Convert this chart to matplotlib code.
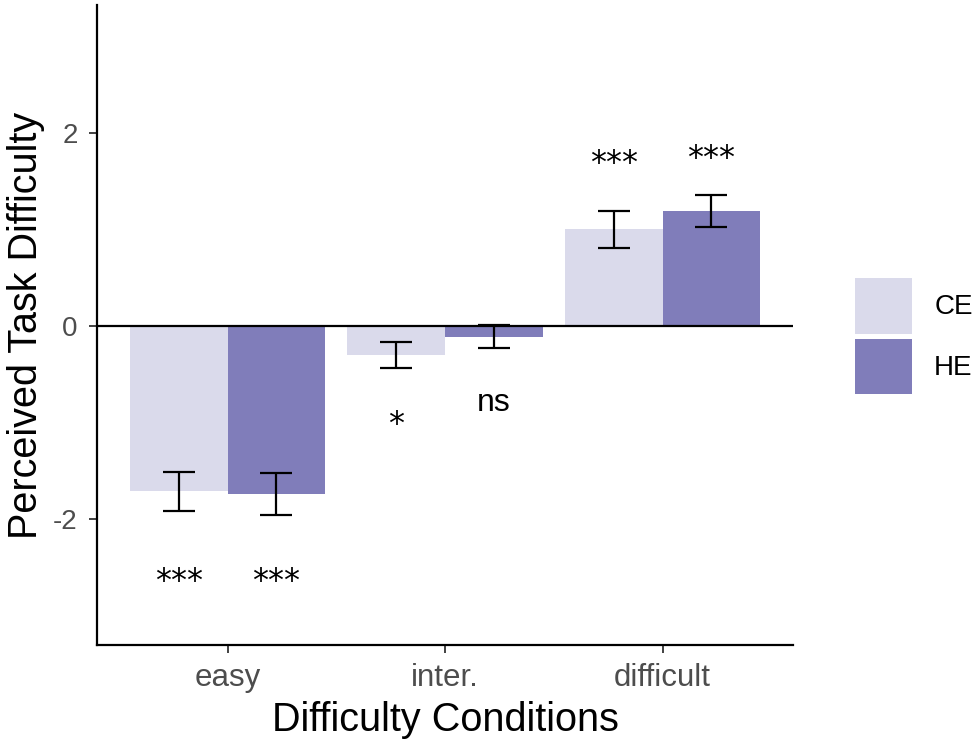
import numpy as np
import matplotlib
matplotlib.use('Agg')
import matplotlib.pyplot as plt
from matplotlib.patches import Patch

plt.rcParams['font.family'] = ['Liberation Sans', 'DejaVu Sans']

# ------------------------------------------------------------------------
# data
conditions = ['easy', 'inter.', 'difficult']
groups = ['CE', 'HE']
ce_mean = [-1.71, -0.30, 1.00]
ce_se = [0.20, 0.13, 0.19]
he_mean = [-1.74, -0.11, 1.19]
he_se = [0.22, 0.12, 0.165]
ce_sig = ['***', '*', '***']
he_sig = ['***', 'ns', '***']
ce_sig_y = [-2.64, -1.02, 1.68]
he_sig_y = [-2.64, -0.80, 1.73]

colors = {'CE': '#dadaeb', 'HE': '#807dba'}
# ------------------------------------------------------------------------
fig = plt.figure(figsize=(9.8, 7.47), dpi=100)
ax = fig.add_axes([97 / 980, 1 - 645 / 747, (793 - 97) / 980, (645 - 5) / 747])

x = np.arange(1, len(conditions) + 1)
w = 0.45
for off, mean, se, sig, sy, g in [(-w / 2, ce_mean, ce_se, ce_sig, ce_sig_y, 'CE'),
                                  (w / 2, he_mean, he_se, he_sig, he_sig_y, 'HE')]:
    ax.bar(x + off, mean, width=w, color=colors[g], zorder=1)
    ax.errorbar(x + off, mean, yerr=se, fmt='none', ecolor='black',
                elinewidth=1.6, capsize=11.5, capthick=1.6, zorder=3)
    for xi, s, yy in zip(x + off, sig, sy):
        # stars look closer in DejaVu, 'ns' in Liberation
        fam = ['DejaVu Sans'] if '*' in s else ['Liberation Sans']
        ax.text(xi, yy, s, ha='center', va='center', fontsize=23, color='black', family=fam)

ax.axhline(0, color='black', lw=1.6, zorder=2)

ax.set_xlim(0.4, 3.6)
ax.set_ylim(-3.3, 3.32)
ax.set_xticks(x)
ax.set_xticklabels(conditions)
ax.set_yticks([-2, 0, 2])
ax.set_yticklabels(['-2', '0', '2'])
ax.tick_params(labelcolor='#4d4d4d', color='#333333', length=6, width=1.3)
ax.tick_params(axis='y', labelsize=20, pad=8)
ax.tick_params(axis='x', labelsize=22.5, pad=7)

for s in ['top', 'right']:
    ax.spines[s].set_visible(False)
for s in ['left', 'bottom']:
    ax.spines[s].set_linewidth(1.6)

ax.set_xlabel('Difficulty Conditions', fontsize=28.5, labelpad=6)
ax.set_ylabel('Perceived Task Difficulty', fontsize=28.5, labelpad=6)

handles = [Patch(facecolor=colors[g], label=g) for g in groups]
fig.legend(handles=handles, loc='center left', bbox_to_anchor=(855 / 980, 1 - 336 / 747),
           frameon=False, fontsize=20, handlelength=2.05, handleheight=2.7,
           labelspacing=0.18, handletextpad=0.8, borderpad=0, borderaxespad=0)

plt.savefig('out.png', dpi=100)
